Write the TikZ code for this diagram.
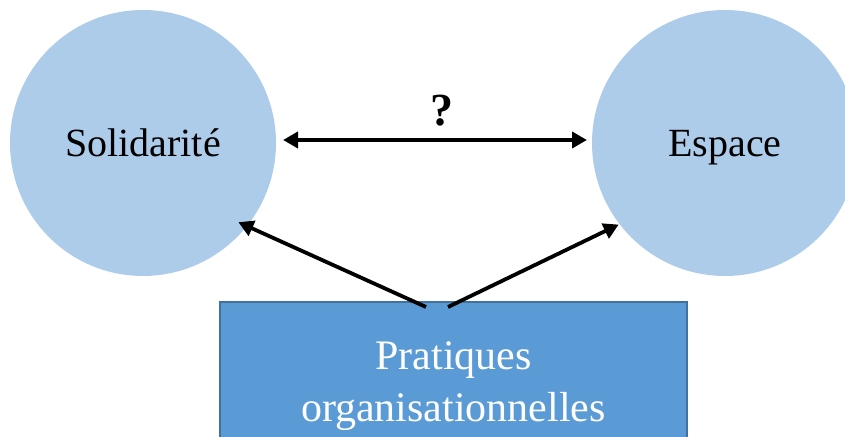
\documentclass[tikz,border=0pt]{standalone}
\usepackage{fontspec}
\setmainfont{Liberation Serif}
\usetikzlibrary{arrows.meta,calc}
\definecolor{circfill}{HTML}{ADCCEA}
\definecolor{boxfill}{HTML}{5B9BD5}
\definecolor{boxdraw}{HTML}{41719C}
\tikzset{
  concept/.style={circle,fill=circfill,minimum size=266pt,inner sep=0pt,outer sep=0pt,text height=32pt,text depth=4pt,font=\fontsize{40}{48}\selectfont},
  practice/.style={rectangle,fill=boxfill,draw=boxdraw,line width=1.5pt,minimum width=467pt,minimum height=168pt,inner sep=0pt,outer sep=0pt,text=white,align=center,font=\fontsize{42}{52}\selectfont},
  link/.style={line width=3.8pt,-{Triangle[length=15pt,width=16pt]}},
  bilink/.style={line width=3.8pt,{Triangle[length=15pt,width=16pt]}-{Triangle[length=15pt,width=16pt]}}
}
\begin{document}
\begin{tikzpicture}[x=1pt,y=1pt]
\useasboundingbox (0,0) rectangle (845,436);
\clip (0,0) rectangle (845,436);
\node[concept] (sol) at (143,293) {Solidarité};
\node[concept] (esp) at (725,293) {Espace};
\node[practice] (prat) at (453.5,50) {Pratiques\\organisationnelles};
\node[font=\fontsize{46}{50}\selectfont\bfseries] (q) at (442,325) {?};
\draw[bilink] ([xshift=7pt,yshift=3pt]sol.east) -- ([xshift=-5pt,yshift=3pt]esp.west);
\draw[link] ($(prat.north)+(-27.5,-5)$) -- ($(sol.center)+(-39.7:124)$);
\draw[link] ($(prat.north)+(-5.5,-5)$) -- ($(esp.center)+(217.5:134)$);
\end{tikzpicture}
\end{document}
